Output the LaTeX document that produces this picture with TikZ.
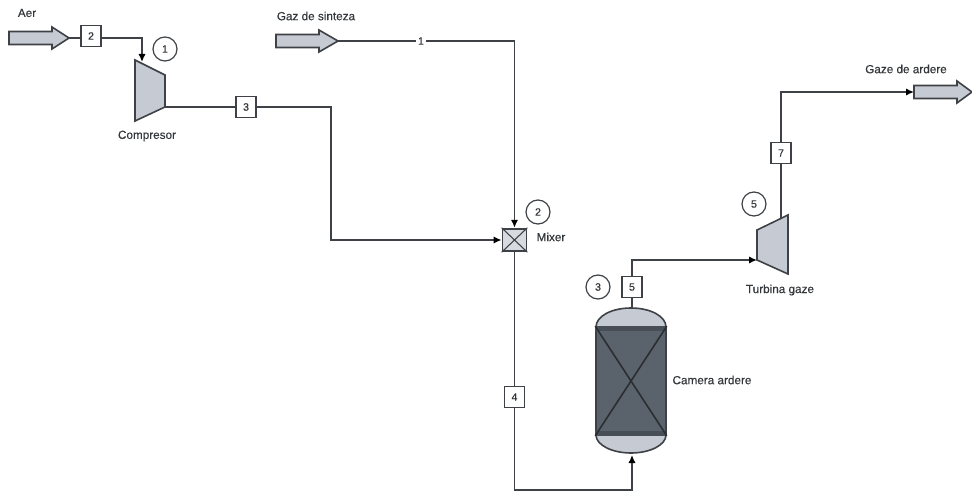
\documentclass[tikz,border=0pt]{standalone}
\usepackage{fontspec}
\setmainfont{Liberation Sans}
\newfontfamily\labfont{Liberation Sans}[FakeBold=0.35]
\usetikzlibrary{arrows.meta}
\definecolor{linec}{HTML}{3E4246}
\definecolor{fillc}{HTML}{C6CAD2}
\definecolor{darkc}{HTML}{5A636C}
\definecolor{bandc}{HTML}{474E55}
\definecolor{textc}{HTML}{33363A}
\tikzset{
  x=0.75pt,y=-0.75pt,
  pipe/.style={draw=linec,line width=1.2pt},
  flow/.style={pipe,-{Latex[length=6pt,width=5.5pt,black]}},
  shapeline/.style={draw=linec,line width=1.2pt,line join=miter},
  tagbox/.style={draw=linec,fill=white,line width=1.2pt,inner sep=0pt,minimum width=15pt,minimum height=16pt,text=textc,font=\fontsize{8}{9}\selectfont\labfont},
  tagplain/.style={fill=white,inner sep=1pt,text=textc,font=\fontsize{8}{9}\selectfont\labfont},
  tagcircle/.style={circle,draw=linec,fill=white,line width=0.9pt,inner sep=0pt,minimum size=18pt,text=textc,font=\fontsize{8}{9}\selectfont\labfont},
  lab/.style={inner sep=0pt,text=textc,font=\fontsize{8.8}{10}\selectfont\labfont},
}
\begin{document}
\begin{tikzpicture}
\useasboundingbox (0,0) rectangle (972,492);
% stream arrows
\newcommand{\streamarrow}[4]{% x0,y,x-head,x-tip
  \draw[shapeline,fill=fillc] (#1,#2-6.5) -- (#3,#2-6.5) -- (#3,#2-11) -- (#4,#2) -- (#3,#2+11) -- (#3,#2+6.5) -- (#1,#2+6.5) -- cycle;}
\streamarrow{9}{38}{52}{69}
\streamarrow{276}{41}{319}{338}
\streamarrow{914}{92}{957}{972}
\coordinate (aerout) at (69,38);
\coordinate (gazout) at (338,41);
\coordinate (fluein) at (914,92);
% compressor
\draw[shapeline,fill=fillc] (135,60) -- (165,75) -- (165,107) -- (135,121) -- cycle;
\coordinate (compin) at (142,62);
\coordinate (compout) at (165,107);
% turbine
\draw[shapeline,fill=fillc] (788,215) -- (757,230) -- (757,260) -- (788,274) -- cycle;
\coordinate (turbin) at (757,260);
\coordinate (turbout) at (781,218);
% mixer
\node[draw=linec,fill=fillc!70!white,line width=1.3pt,minimum width=18pt,minimum height=17pt,inner sep=0pt] (mixer) at (514.5,240) {};
\draw[linec,line width=0.8pt] (mixer.north west) -- (mixer.south east) (mixer.north east) -- (mixer.south west);
% vessel
\draw[shapeline,fill=fillc] (596,327) .. controls (596,316) and (612,308) .. (631,308) .. controls (650,308) and (666,316) .. (666,327) -- (666,435) .. controls (666,445) and (650,453) .. (631,453) .. controls (612,453) and (596,445) .. (596,435) -- cycle;
\node[draw=linec,fill=darkc,line width=1.2pt,minimum width=52.5pt,minimum height=81pt,inner sep=0pt] (vessel) at (631,381) {};
\fill[bandc] (vessel.north west) rectangle ++(70,5);
\fill[bandc] (vessel.south west) rectangle ++(70,-5);
\draw[linec!70!black,line width=1.2pt] (vessel.north west) -- (vessel.south east) (vessel.north east) -- (vessel.south west);
\coordinate (vtop) at (632,308);
\coordinate (vbot) at (632,455);
% tags
\node[tagbox] (t2) at (91,36) {2};
\node[tagbox] (t3) at (246,107) {3};
\node[tagplain] (t1) at (421,41) {1};
\node[tagbox] (t4) at (514.5,397) {4};
\node[tagbox] (t5) at (632,287) {5};
\node[tagbox] (t7) at (781,153) {7};
\node[tagcircle] (c1) at (165,49) {1};
\node[tagcircle] (c2) at (538,212) {2};
\node[tagcircle] (c3) at (598,287) {3};
\node[tagcircle] (c5) at (754,204) {5};
% bends
\coordinate (b1) at (142,38);
\coordinate (b2) at (331,107);
\coordinate (b3) at (331,240);
\coordinate (b4) at (514.5,41);
\coordinate (b5) at (514.5,490);
\coordinate (b6) at (632,490);
\coordinate (b7) at (632,260);
\coordinate (b8) at (781,92);
% connectors
\draw[pipe] (aerout) -- (t2.west |- aerout);
\draw[flow] (t2.east |- aerout) -- (b1) -- (compin);
\draw[pipe] (compout) -- (t3);
\draw[flow] (t3.east) -- (b2) -- (b3) -- (mixer.west);
\draw[pipe] (gazout) -- (t1);
\draw[flow] (t1) -- (b4) -- (mixer.north);
\draw[pipe] (mixer.south) -- (t4);
\draw[flow] (t4.south) -- (b5) -- (b6) -- (vbot);
\draw[pipe] (vtop) -- (t5);
\draw[flow] (t5.north) -- (b7) -- (turbin);
\draw[pipe] (turbout) -- (t7);
\draw[flow] (t7.north) -- (b8) -- (fluein);
% labels
\node[lab] (l1) at (27,13) {Aer};
\node[lab] (l2) at (316,16) {Gaz de sinteza};
\node[lab] (l3) at (147,136) {Compresor};
\node[lab] (l4) at (551,237) {Mixer};
\node[lab] (l5) at (712,380) {Camera ardere};
\node[lab] (l6) at (780,290) {Turbina gaze};
\node[lab] (l7) at (906,69) {Gaze de ardere};
\end{tikzpicture}
\end{document}
